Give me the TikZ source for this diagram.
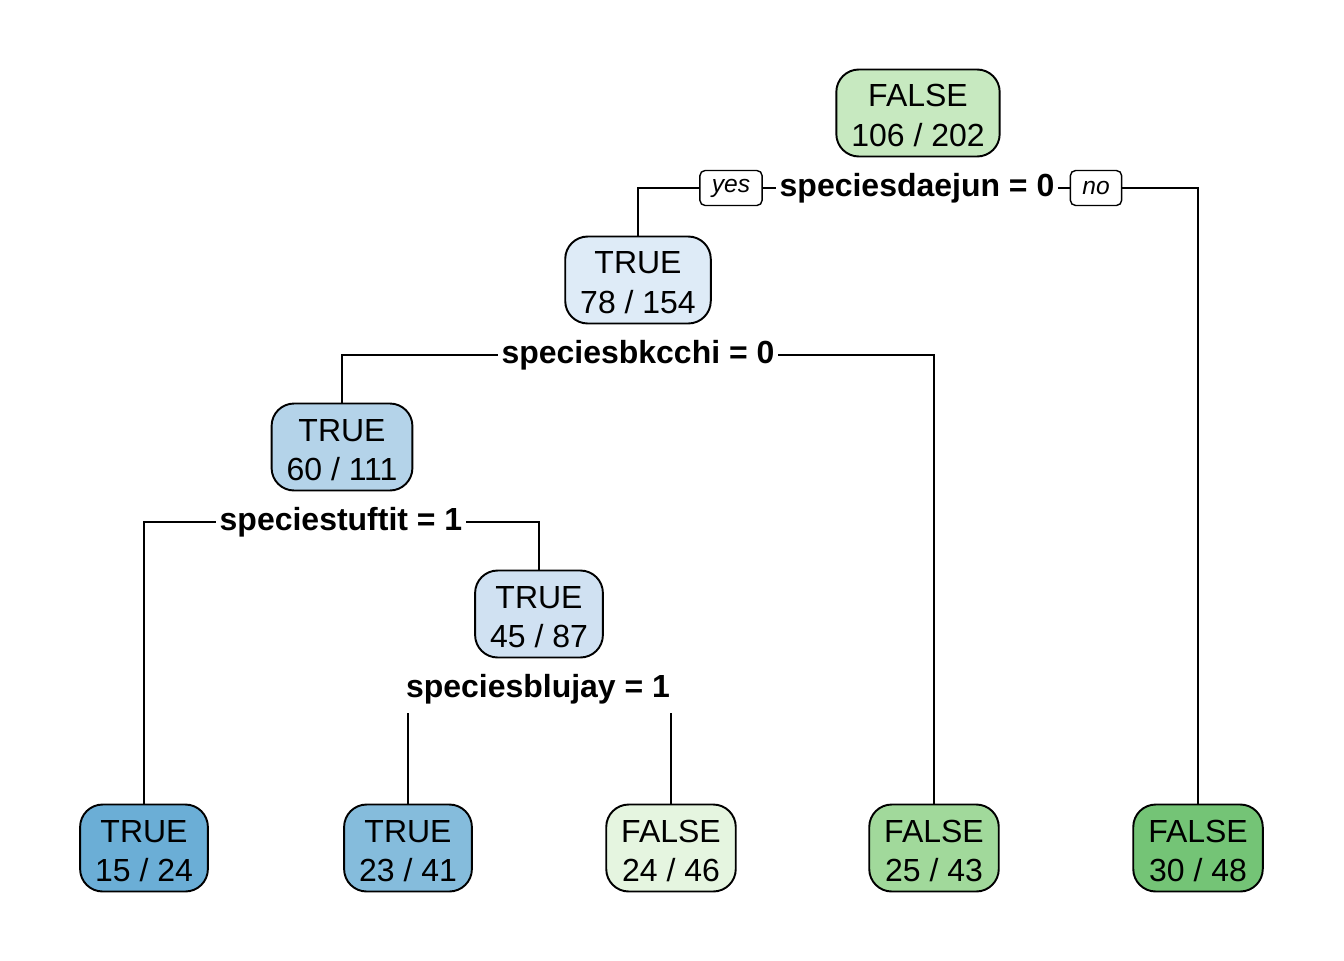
\documentclass[tikz,border=0pt]{standalone}
\usepackage{fontspec}
\setmainfont{Liberation Sans}
\usetikzlibrary{positioning}

\definecolor{grA}{HTML}{C7E9C0}
\definecolor{grB}{HTML}{E5F5E0}
\definecolor{grC}{HTML}{A1D99B}
\definecolor{grD}{HTML}{74C476}
\definecolor{blA}{HTML}{DEEBF7}
\definecolor{blB}{HTML}{B4D3E9}
\definecolor{blC}{HTML}{D0E1F2}
\definecolor{blD}{HTML}{6BAED6}
\definecolor{blE}{HTML}{85BCDC}

\tikzset{
  treenode/.style={draw, line width=1.1pt, rounded corners=0.45cm, align=center,
    inner xsep=0.3cm, minimum height=1.74cm, font=\fontsize{18.2}{22.2}\selectfont},
  splitlabel/.style={inner xsep=2pt, inner ysep=1pt, font=\fontsize{18.2}{22}\selectfont\bfseries},
  yesno/.style={draw, line width=0.8pt, rounded corners=3pt, inner xsep=0.24cm,
    minimum height=0.7cm, font=\fontsize{14}{16}\selectfont\itshape},
  edge/.style={line width=1.1pt}
}

\begin{document}
\begin{tikzpicture}[x=0.02cm, y=-0.02cm]
\useasboundingbox (0,0) rectangle (1344,960);

% inner nodes
\node[treenode, fill=grA] (root) at (918,113) {\strut FALSE\\106 / 202};
\node[treenode, fill=blA] (n2) at (638,280) {\strut TRUE\\78 / 154};
\node[treenode, fill=blB] (n3) at (342,447) {\strut TRUE\\60 / 111};
\node[treenode, fill=blC] (n5) at (539,614) {\strut TRUE\\45 / 87};

% leaves
\node[treenode, fill=blD] (l1) at (144,848) {\strut TRUE\\15 / 24};
\node[treenode, fill=blE] (l2) at (408,848) {\strut TRUE\\23 / 41};
\node[treenode, fill=grB] (l3) at (671,848) {\strut FALSE\\24 / 46};
\node[treenode, fill=grC] (l4) at (934,848) {\strut FALSE\\25 / 43};
\node[treenode, fill=grD] (l5) at (1198,848) {\strut FALSE\\30 / 48};

% split labels
\node[splitlabel] (s1) at (917,188) {speciesdaejun = 0};
\node[splitlabel] (s2) at (638,355) {speciesbkcchi = 0};
\node[splitlabel] (s3) at (341,522) {speciestuftit = 1};
\node[splitlabel] (s4) at (538,689) {speciesblujay = 1};
\node[yesno] (yes) at (731,188) {yes};
\node[yesno] (no) at (1096,188) {no};

% branches
\draw[edge] (n2.north) |- (yes.west);
\draw[edge] (yes.east) -- (s1.west);
\draw[edge] (s1.east) -- (no.west);
\draw[edge] (no.east) -| (l5.north);
\draw[edge] (n3.north) |- (s2.west);
\draw[edge] (s2.east) -| (l4.north);
\draw[edge] (l1.north) |- (s3.west);
\draw[edge] (s3.east) -| (n5.north);
\draw[edge] ([yshift=-4pt]l2.north |- s4.south) -- (l2.north);
\draw[edge] ([yshift=-4pt]l3.north |- s4.south) -- (l3.north);

\end{tikzpicture}
\end{document}
